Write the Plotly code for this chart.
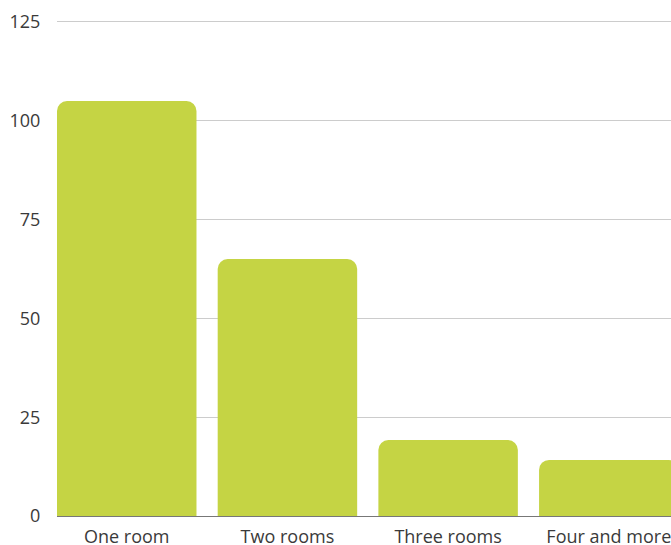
import plotly.graph_objects as go

categories = ["One room", "Two rooms", "Three rooms", "Four and more"]
values = [105, 65, 19.2, 14.2]
y_ticks = [0, 25, 50, 75, 100, 125]

fig = go.Figure(go.Bar(
    x=categories, y=values,
    marker=dict(color="#C5D444", line=dict(width=0)),
    width=0.868,
))

fig.update_layout(
    width=671, height=545,
    margin=dict(l=57, r=0, t=20, b=29, autoexpand=False),
    paper_bgcolor="white", plot_bgcolor="white",
    barcornerradius=10,
    font=dict(family="Open Sans", size=18, color="#3a3a3a"),
    showlegend=False,
)
fig.update_xaxes(
    range=[-0.434, 3.387],
    showgrid=False,
    showline=True, linecolor="#777777", linewidth=1,
    ticks="outside", ticklen=4, tickcolor="rgba(0,0,0,0)",
    automargin=False,
)
fig.update_yaxes(
    range=[0, 125.5],
    tickvals=y_ticks,
    showgrid=True, gridcolor="#cccccc", gridwidth=1,
    zeroline=False,
    ticks="outside", ticklen=12, tickcolor="rgba(0,0,0,0)",
    automargin=False,
)

fig.write_html(
    "out.html",
    config={"displayModeBar": False},
    post_script="document.body.style.margin='0';document.body.style.overflow='hidden';",
)
